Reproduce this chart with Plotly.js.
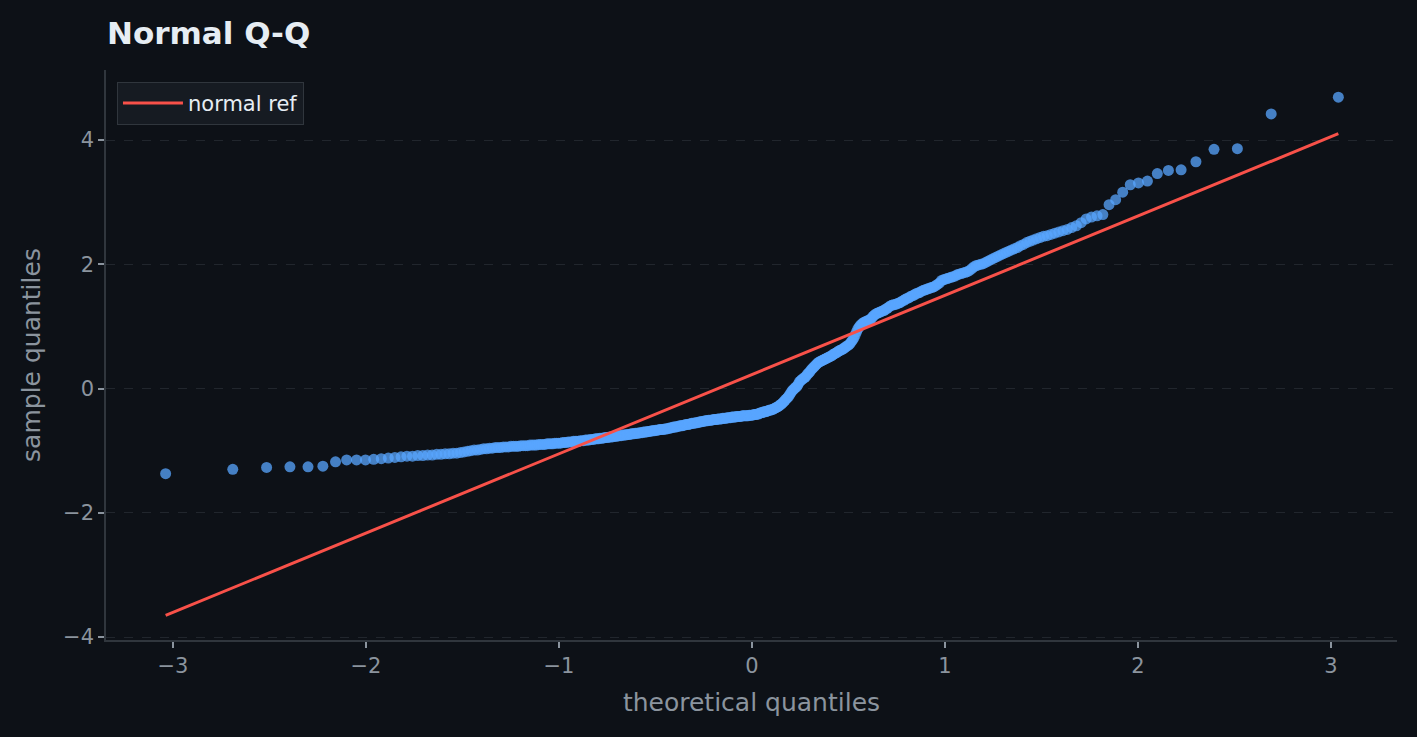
<!DOCTYPE html>
<html>
<head>
<meta charset="utf-8">
<script src="https://cdn.plot.ly/plotly-3.0.1.min.js"></script>
<style>
  html, body { margin: 0; padding: 0; background: #0d1117; }
  #chart { width: 1417px; height: 737px; }
</style>
</head>
<body>
<div id="chart"></div>
<script>
// Sorted sample values (ascending)
const sampleQuantiles = [
  -1.37, -1.30, -1.27, -1.26, -1.26, -1.25, -1.18, -1.15, -1.15, -1.15,
  -1.14, -1.13, -1.12, -1.11, -1.10, -1.09, -1.09, -1.08, -1.08, -1.07,
  -1.07, -1.06, -1.06, -1.05, -1.05, -1.04, -1.04, -1.03, -1.02, -1.01,
  -1.00, -0.99, -0.99, -0.98, -0.97, -0.97, -0.96, -0.96,
  -0.95, -0.95, -0.95, -0.94, -0.94, -0.94, -0.93, -0.93, -0.93, -0.93,
  -0.92, -0.92, -0.92, -0.92, -0.91, -0.91, -0.91,
  -0.91, -0.90, -0.90, -0.90, -0.90, -0.89, -0.89, -0.89, -0.89, -0.88,
  -0.88, -0.88, -0.88, -0.87, -0.87, -0.87,
  -0.86, -0.86, -0.86, -0.85, -0.85, -0.85, -0.85, -0.84, -0.84, -0.84,
  -0.83, -0.83, -0.83, -0.82, -0.82, -0.82, -0.81, -0.81, -0.81, -0.80,
  -0.80, -0.80, -0.79, -0.79, -0.79, -0.78, -0.78, -0.78, -0.77, -0.77,
  -0.77, -0.76, -0.76, -0.76, -0.75, -0.75, -0.75, -0.74, -0.74, -0.74,
  -0.73, -0.73,
  -0.73, -0.72, -0.72, -0.72, -0.71, -0.71, -0.71, -0.70, -0.70, -0.70,
  -0.69, -0.69, -0.69, -0.68, -0.68, -0.68, -0.67, -0.67, -0.67, -0.66,
  -0.66, -0.66, -0.66, -0.65, -0.65, -0.65,
  -0.64, -0.64, -0.63, -0.63, -0.62, -0.62, -0.62, -0.61, -0.61, -0.60,
  -0.60, -0.60, -0.59, -0.59, -0.58, -0.58, -0.58, -0.57, -0.57, -0.56,
  -0.56, -0.56, -0.55, -0.55, -0.55, -0.54, -0.54,
  -0.53, -0.53, -0.53, -0.52, -0.52, -0.52, -0.51, -0.51, -0.51, -0.51,
  -0.50, -0.50, -0.50, -0.50, -0.49, -0.49, -0.49, -0.49, -0.48, -0.48,
  -0.48, -0.48, -0.47, -0.47, -0.47, -0.47, -0.46, -0.46,
  -0.46, -0.46, -0.45, -0.45, -0.45, -0.45, -0.45, -0.44, -0.44, -0.44,
  -0.44, -0.44, -0.44, -0.43, -0.43,
  -0.43, -0.43, -0.42, -0.42, -0.42, -0.41, -0.41, -0.40,
  -0.39, -0.39, -0.38, -0.38, -0.37, -0.37,
  -0.36, -0.35, -0.35, -0.34, -0.34, -0.33,
  -0.32, -0.31, -0.30, -0.29, -0.28, -0.26,
  -0.25, -0.23, -0.21, -0.19, -0.17, -0.15, -0.13, -0.10,
  -0.07, -0.04, -0.02, 0.00, 0.02, 0.03,
  0.06, 0.10, 0.12, 0.14, 0.15, 0.17, 0.18, 0.20,
  0.23, 0.25, 0.27, 0.30, 0.32, 0.34, 0.36, 0.38, 0.40,
  0.42, 0.43, 0.44, 0.45, 0.46, 0.47, 0.48, 0.49,
  0.50, 0.51, 0.52, 0.53, 0.55, 0.56, 0.57, 0.58, 0.60, 0.61,
  0.62, 0.63, 0.64, 0.66, 0.67, 0.69, 0.70, 0.72,
  0.75, 0.78, 0.81, 0.86, 0.91,
  0.96, 0.99, 1.02, 1.04, 1.06,
  1.07, 1.08, 1.09, 1.10, 1.11, 1.13, 1.16,
  1.18, 1.20, 1.21, 1.22, 1.23,
  1.24, 1.25, 1.26, 1.28, 1.29, 1.31, 1.33,
  1.34, 1.35, 1.35, 1.36, 1.37, 1.38, 1.39, 1.41, 1.42, 1.44,
  1.45, 1.46, 1.48, 1.49, 1.50, 1.52, 1.53, 1.54, 1.55, 1.57,
  1.58, 1.59, 1.60, 1.61, 1.62, 1.63, 1.64, 1.66, 1.68, 1.70,
  1.74, 1.75, 1.76, 1.77, 1.78, 1.79, 1.80, 1.81, 1.83,
  1.84, 1.85, 1.86, 1.87, 1.88, 1.90, 1.93, 1.96,
  1.98, 1.99, 2.00, 2.01, 2.03, 2.05, 2.07,
  2.09, 2.11, 2.13, 2.15, 2.17, 2.19,
  2.21, 2.23, 2.25, 2.27, 2.30, 2.32,
  2.35, 2.37, 2.39, 2.41, 2.43,
  2.45, 2.46, 2.48,
  2.50, 2.52, 2.54, 2.56,
  2.59, 2.62, 2.67,
  2.73, 2.76, 2.78, 2.80, 2.96, 3.04, 3.16, 3.28, 3.31, 3.34,
  3.46, 3.51, 3.52, 3.65, 3.85, 3.86, 4.42, 4.69
];

// Reference line: intercept (location) and slope (scale)
const refIntercept = 0.225;
const refSlope = 1.276;

const xTickVals = [-3, -2, -1, 0, 1, 2, 3];
const yTickVals = [-4, -2, 0, 2, 4];

// Inverse standard normal CDF (Acklam's rational approximation)
function normPpf(p) {
  const a = [-3.969683028665376e+01, 2.209460984245205e+02, -2.759285104469687e+02,
             1.383577518672690e+02, -3.066479806614716e+01, 2.506628277459239e+00];
  const b = [-5.447609879822406e+01, 1.615858368580409e+02, -1.556989798598866e+02,
             6.680131188771972e+01, -1.328068155288572e+01];
  const c = [-7.784894002430293e-03, -3.223964580411365e-01, -2.400758277161838e+00,
             -2.549671035506765e+00, 4.374664141464968e+00, 2.938163982698783e+00];
  const d = [7.784695709041462e-03, 3.224671290700398e-01, 2.445134137142996e+00,
             3.754408661907416e+00];
  const plow = 0.02425, phigh = 1 - plow;
  let q, r;
  if (p < plow) {
    q = Math.sqrt(-2 * Math.log(p));
    return (((((c[0]*q + c[1])*q + c[2])*q + c[3])*q + c[4])*q + c[5]) /
           ((((d[0]*q + d[1])*q + d[2])*q + d[3])*q + 1);
  }
  if (p > phigh) {
    q = Math.sqrt(-2 * Math.log(1 - p));
    return -(((((c[0]*q + c[1])*q + c[2])*q + c[3])*q + c[4])*q + c[5]) /
            ((((d[0]*q + d[1])*q + d[2])*q + d[3])*q + 1);
  }
  q = p - 0.5;
  r = q * q;
  return (((((a[0]*r + a[1])*r + a[2])*r + a[3])*r + a[4])*r + a[5]) * q /
         (((((b[0]*r + b[1])*r + b[2])*r + b[3])*r + b[4])*r + 1);
}

const n = sampleQuantiles.length;
const theoretical = sampleQuantiles.map((_, i) => normPpf((i + 0.5) / n));
const xLo = theoretical[0], xHi = theoretical[n - 1];

const FONT = 'DejaVu Sans, Liberation Sans, sans-serif';
const MUTED = '#8b949e';

const traces = [
  {
    type: 'scatter',
    mode: 'markers',
    x: theoretical,
    y: sampleQuantiles,
    showlegend: false,
    hoverinfo: 'x+y',
    marker: { size: 11, color: '#58a6ff', opacity: 0.75, line: { width: 0 } }
  },
  {
    type: 'scatter',
    mode: 'lines',
    name: 'normal ref',
    x: [xLo, xHi],
    y: [refIntercept + refSlope * xLo, refIntercept + refSlope * xHi],
    line: { color: '#f85149', width: 3 }
  }
];

const layout = {
  width: 1417,
  height: 737,
  paper_bgcolor: '#0d1117',
  plot_bgcolor: '#0d1117',
  margin: { l: 106, r: 20, t: 70, b: 97, pad: 0 },
  font: { family: FONT, color: MUTED },
  title: {
    text: '<b>Normal Q-Q</b>',
    font: { family: FONT, size: 31, color: '#e6edf3' },
    xref: 'container', yref: 'container',
    x: 107 / 1417, xanchor: 'left',
    y: 1 - 33 / 737, yanchor: 'middle'
  },
  xaxis: {
    range: [-3.347, 3.342],
    tickvals: xTickVals,
    showgrid: false,
    zeroline: false,
    showline: true,
    linecolor: '#30363d',
    linewidth: 1.5,
    ticks: 'outside',
    ticklen: 6,
    tickwidth: 1.5,
    tickcolor: MUTED,
    tickfont: { family: FONT, size: 21, color: MUTED },
    title: { text: 'theoretical quantiles', font: { family: FONT, size: 25, color: MUTED }, standoff: 17 },
    automargin: false
  },
  yaxis: {
    range: [-4.048, 5.127],
    tickvals: yTickVals,
    showgrid: true,
    gridcolor: '#21262d',
    griddash: 'dash',
    gridwidth: 1,
    zeroline: false,
    showline: true,
    linecolor: '#30363d',
    linewidth: 1.5,
    ticks: 'outside',
    ticklen: 6,
    tickwidth: 1.5,
    tickcolor: MUTED,
    tickfont: { family: FONT, size: 21, color: MUTED },
    title: { text: 'sample quantiles', font: { family: FONT, size: 25, color: MUTED }, standoff: 15 },
    automargin: false
  },
  legend: {
    x: 0.0085, y: 0.979, xanchor: 'left', yanchor: 'top',
    bgcolor: '#161b22',
    bordercolor: '#30363d',
    borderwidth: 1,
    itemwidth: 60,
    font: { family: FONT, size: 21, color: '#e6edf3' }
  },
  showlegend: true
};

Plotly.newPlot('chart', traces, layout, { displayModeBar: false, responsive: false });
</script>
</body>
</html>
